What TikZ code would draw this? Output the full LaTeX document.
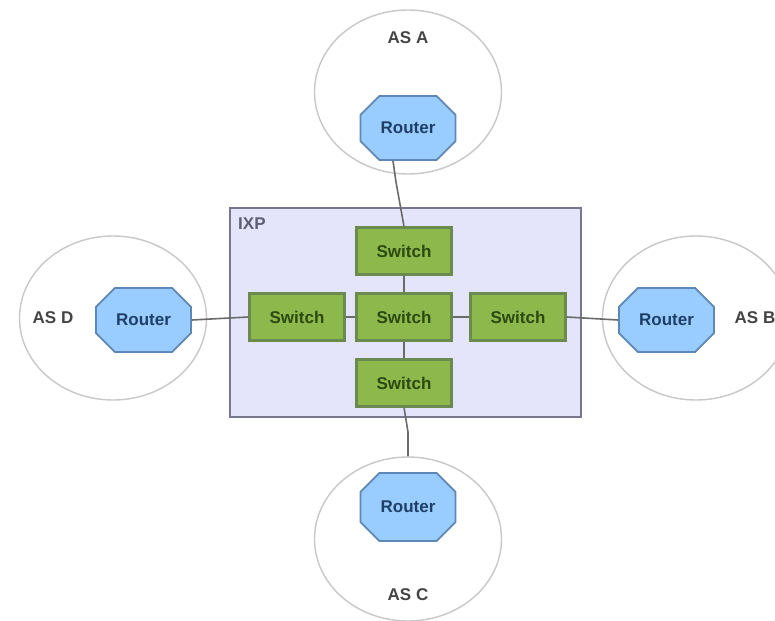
\documentclass[tikz,border=0pt]{standalone}
\usepackage{fontspec}
\setmainfont{Liberation Sans}
\usetikzlibrary{shapes.geometric,shapes.misc}
\definecolor{routerfill}{HTML}{99CCFF}
\definecolor{routerline}{HTML}{5F87B5}
\definecolor{routertext}{HTML}{1F3F66}
\definecolor{switchfill}{HTML}{8DB84C}
\definecolor{switchline}{HTML}{6B8A50}
\definecolor{switchtext}{HTML}{2C4A10}
\definecolor{ixpfill}{HTML}{E4E4FB}
\definecolor{ixpline}{HTML}{77778F}
\definecolor{asline}{HTML}{C8C8C8}
\definecolor{astext}{HTML}{444444}
\definecolor{linkline}{HTML}{6A6A6A}
\tikzset{
  x=1pt,y=-1pt,
  labelfont/.style={font=\fontsize{17}{20}\selectfont\bfseries},
  asblob/.style={ellipse,draw=asline,line width=1.4pt,fill=white,inner sep=0pt,minimum width=187pt,minimum height=164pt},
  routerbox/.style={chamfered rectangle,chamfered rectangle xsep=13pt,chamfered rectangle ysep=13pt,draw=routerline,line width=1.8pt,fill=routerfill,inner sep=0pt,minimum width=95pt,minimum height=64pt,text=routertext,labelfont},
  switchbox/.style={rectangle,draw=switchline,line width=2.2pt,fill=switchfill,inner sep=0pt,minimum width=95pt,minimum height=47pt,text=switchtext,labelfont},
  ixpbox/.style={rectangle,draw=ixpline,line width=1.8pt,fill=ixpfill,inner sep=0pt,minimum width=351pt,minimum height=209pt},
  aslabel/.style={text=astext,labelfont,inner sep=0pt},
  ixplabel/.style={text=ixpline!80!black,labelfont,inner sep=0pt,anchor=west},
  link/.style={draw=linkline,line width=1.6pt}
}
\begin{document}
\begin{tikzpicture}
\useasboundingbox (0,0) rectangle (775,620);
\clip (0,0) rectangle (775,620);
\fill[white] (0,0) rectangle (775,620);
% AS areas
\node[asblob] (asa) at (408,92) {};
\node[asblob] (asd) at (113,318) {};
\node[asblob] (asb) at (696,318) {};
\node[asblob] (asc) at (408,539) {};
% IXP
\node[ixpbox] (ixp) at (405.5,312.5) {};
\node[ixplabel] (ixpname) at (238,224) {IXP};
% link bends
\coordinate (abend) at (396,182);
\coordinate (cbend) at (408,432);
% routers and switches
\node[routerbox] (ra) at (408,128) {Router};
\node[routerbox] (rd) at (143.5,320) {Router};
\node[routerbox] (rb) at (666.5,320) {Router};
\node[routerbox,minimum height=68pt] (rc) at (408,507) {Router};
\node[switchbox] (st) at (404,251) {Switch};
\node[switchbox] (sm) at (404,317) {Switch};
\node[switchbox] (sl) at (297,317) {Switch};
\node[switchbox] (sr) at (518,317) {Switch};
\node[switchbox] (sb) at (404,383) {Switch};
% links
\draw[link] (ra.south -| 393,0) -- (abend) -- (st.north);
\draw[link] (st) -- (sm);
\draw[link] (sm) -- (sb);
\draw[link] (sl) -- (sm);
\draw[link] (sm) -- (sr);
\draw[link] (rd.east) -- (sl.west);
\draw[link] (sr.east) -- (rb.west);
\draw[link] (sb.south) -- (cbend) -- (asc.north);
% labels
\node[aslabel] (la) at (408,38) {AS A};
\node[aslabel] (ld) at (53,318) {AS D};
\node[aslabel] (lb) at (755,318) {AS B};
\node[aslabel] (lc) at (408,595) {AS C};
\end{tikzpicture}
\end{document}
